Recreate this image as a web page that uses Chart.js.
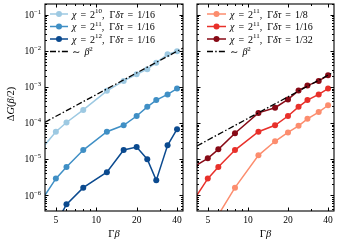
<!DOCTYPE html>
<html>
<head>
<meta charset="utf-8">
<script src="https://cdn.jsdelivr.net/npm/chart.js@4.4.1/dist/chart.umd.min.js"></script>
<style>
    html, body { margin: 0; padding: 0; background: #fff; }
    #wrap { position: relative; width: 338px; height: 241px; }
    canvas { position: absolute; left: 0; top: 0; }
</style>
</head>
<body>
<div id="wrap">
    <canvas id="leftPanel" width="338" height="241"></canvas>
    <canvas id="rightPanel" width="338" height="241"></canvas>
</div>
<script>
// Γβ values shared by every curve
const gammaBeta = [4, 5, 6, 8, 12, 16, 20, 24, 28, 34, 40];

// left panel: Γδτ = 1/16, varying χ
const chi10 = [2.1e-5, 5.7e-5, 1.03e-4, 2.3e-4, 7.8e-4, 1.47e-3, 2.25e-3, 3.1e-3, 4.7e-3, 8.0e-3, 9.8e-3];
const chi11 = [8.0e-7, 2.85e-6, 6.0e-6, 1.77e-5, 5.7e-5, 8.6e-5, 1.56e-4, 2.8e-4, 4.3e-4, 6.2e-4, 9.0e-4];
const chi12 = [null, 1.6e-7, 5.5e-7, 1.6e-6, 4.3e-6, 1.77e-5, 2.14e-5, 9.9e-6, 2.55e-6, 2.4e-5, 6.7e-5];

// right panel: χ = 2^11, varying Γδτ (1/16 is the same run as chi11)
const dtau8 = [null, 6.0e-8, 2.8e-7, 1.6e-6, 1.26e-5, 3.1e-5, 5.45e-5, 8.3e-5, 1.3e-4, 2.0e-4, 3.1e-4];
const dtau16 = chi11;
const dtau32 = [6.3e-6, 1.04e-5, 1.85e-5, 5.2e-5, 1.9e-4, 2.65e-4, 4.5e-4, 7.9e-4, 1.09e-3, 1.47e-3, 2.1e-3];

// ~β² guide lines (end points)
const guideX = [4.15, 44.3];
const guideLeft = [1.05e-4, 1.2e-2];
const guideRight = [2.3e-5, 2.6e-3];

// axes
const xRange = [4.15, 44.3];
const yRange = [3.6e-7, 0.2];
const xTicks = [5, 10, 20, 40];
const xMinor = [6, 7, 8, 9, 30];
const yExponents = [-6, -5, -4, -3, -2, -1];

const SERIF = "'Liberation Serif', 'DejaVu Serif', serif";

function pts(xs, ys) {
    return xs.map((x, i) => ({ x: x, y: ys[i] })).filter(p => p.y != null);
}

function fontFor(st, size) {
    if (st === 'i') return 'italic ' + size + 'px ' + SERIF;
    if (st === 's') return (size * 0.7) + 'px ' + SERIF;
    return size + 'px ' + SERIF;
}

function partsWidth(ctx, parts, size) {
    let w = 0;
    for (const [t, st] of parts) {
        if (st === 'g') { w += +t; continue; }
        ctx.font = fontFor(st, size);
        w += ctx.measureText(t).width;
    }
    return w;
}

function drawParts(ctx, parts, x, y, size) {
    for (const [t, st] of parts) {
        if (st === 'g') { x += +t; continue; }
        ctx.font = fontFor(st, size);
        ctx.fillText(t, x, st === 's' ? y - size * 0.42 : y);
        x += ctx.measureText(t).width;
    }
}

function eq(rhs) {
    return [['4', 'g'], ['=', ''], ['4', 'g'], [rhs, '']];
}

function chiLabel(exp, dt) {
    return [['χ', 'i']].concat(eq('2'), [[exp, 's'], [',', ''], ['5', 'g'], ['Γ', ''], ['δτ', 'i']], eq(dt));
}

const guideLabel = [['∼', ''], ['4', 'g'], ['β', 'i'], ['2', 's']];

// per panel decorations (legend, labels)
const panelInfo = {
    leftPanel: {
        yLabels: true,
        legendX: 50, legendW: 18, textX: 72,
        legend: [
            { color: '#9dc9e2', parts: chiLabel('10', '1/16') },
            { color: '#3f8fc5', parts: chiLabel('11', '1/16') },
            { color: '#0b4a8f', parts: chiLabel('12', '1/16') },
            { color: '#000', dash: true, parts: guideLabel }
        ]
    },
    rightPanel: {
        yLabels: false,
        legendX: 207, legendW: 19, textX: 230,
        legend: [
            { color: '#fc8d6e', parts: chiLabel('11', '1/8') },
            { color: '#e8302a', parts: chiLabel('11', '1/16') },
            { color: '#870a16', parts: chiLabel('11', '1/32') },
            { color: '#000', dash: true, parts: guideLabel }
        ]
    }
};

const DASHDOT = [6, 2.2, 1.5, 2.2];

// frame, inward ticks, labels and legend in matplotlib style
const framePlugin = {
    id: 'frame',
    afterDraw(chart) {
        const info = panelInfo[chart.canvas.id];
        const { ctx, chartArea: a, scales: { x, y } } = chart;
        ctx.save();
        ctx.strokeStyle = '#000';
        ctx.fillStyle = '#000';
        ctx.lineWidth = 1;

        const tick = (x1, y1, x2, y2) => {
            ctx.beginPath(); ctx.moveTo(x1, y1); ctx.lineTo(x2, y2); ctx.stroke();
        };

        // x ticks
        xTicks.concat(xMinor).forEach(v => {
            const px = Math.round(x.getPixelForValue(v)) + 0.5;
            const len = xTicks.includes(v) ? 3.5 : 2;
            tick(px, a.bottom, px, a.bottom - len);
            tick(px, a.top, px, a.top + len);
        });
        // y ticks
        for (let e = -8; e <= 0; e++) {
            for (let m = 1; m <= 9; m++) {
                const v = m * Math.pow(10, e);
                if (v < yRange[0] || v > yRange[1]) continue;
                const py = Math.round(y.getPixelForValue(v)) + 0.5;
                const len = m === 1 ? 3.5 : 2;
                tick(a.left, py, a.left + len, py);
                tick(a.right, py, a.right - len, py);
            }
        }
        ctx.lineWidth = 1.1;
        ctx.strokeRect(a.left, a.top, a.right - a.left, a.bottom - a.top);

        // x tick labels
        ctx.textBaseline = 'alphabetic';
        xTicks.forEach(v => {
            const px = x.getPixelForValue(v);
            const parts = [[String(v), '']];
            const w = partsWidth(ctx, parts, 9.5);
            drawParts(ctx, parts, px - w / 2, a.bottom + 12, 9.5);
        });
        // x title
        const xt = [['Γ', ''], ['β', 'i']];
        const xtw = partsWidth(ctx, xt, 10.5);
        drawParts(ctx, xt, (a.left + a.right) / 2 - xtw / 2, 237, 10.5);

        if (info.yLabels) {
            yExponents.forEach(e => {
                const py = y.getPixelForValue(Math.pow(10, e));
                const parts = [['10', ''], ['−' + Math.abs(e), 's']];
                const w = partsWidth(ctx, parts, 9.5);
                drawParts(ctx, parts, a.left - 4 - w, py + 3.5, 9.5);
            });
            // y title
            const yt = [['Δ', ''], ['G', 'i'], ['(', ''], ['β', 'i'], ['/2)', '']];
            const ytw = partsWidth(ctx, yt, 10.5);
            ctx.save();
            ctx.translate(10, 104);
            ctx.rotate(-Math.PI / 2);
            drawParts(ctx, yt, -ytw / 2, 3.5, 10.5);
            ctx.restore();
        }

        // legend
        info.legend.forEach((row, i) => {
            const cy = 14 + i * 12.5;
            ctx.strokeStyle = row.color;
            ctx.fillStyle = row.color;
            ctx.lineWidth = row.dash ? 1.3 : 1.5;
            ctx.setLineDash(row.dash ? DASHDOT : []);
            tick(info.legendX, cy, info.legendX + info.legendW, cy);
            ctx.setLineDash([]);
            if (!row.dash) {
                ctx.beginPath();
                ctx.arc(info.legendX + info.legendW / 2, cy, 3, 0, Math.PI * 2);
                ctx.fill();
            }
            ctx.fillStyle = '#000';
            drawParts(ctx, row.parts, info.textX, cy + 3.5, 10);
        });
        ctx.restore();
    }
};

function series(data, color, order) {
    return {
        data: data,
        borderColor: color,
        backgroundColor: color,
        borderWidth: 1.5,
        pointRadius: 3,
        pointBorderWidth: 0,
        pointBackgroundColor: color,
        tension: 0,
        order: order
    };
}

function guide(data) {
    return {
        data: data,
        borderColor: '#000',
        borderWidth: 1.3,
        borderDash: DASHDOT,
        pointRadius: 0,
        tension: 0,
        order: 0
    };
}

function makePanel(id, datasets, padding, yWidth) {
    return new Chart(document.getElementById(id), {
        type: 'line',
        data: { datasets: datasets },
        options: {
            responsive: false,
            animation: false,
            devicePixelRatio: 1,
            layout: { padding: padding },
            plugins: { legend: { display: false }, tooltip: { enabled: false } },
            scales: {
                x: {
                    type: 'logarithmic', min: xRange[0], max: xRange[1],
                    grid: { display: false, drawTicks: false },
                    border: { display: false },
                    ticks: { display: false },
                    afterFit: s => { s.height = 30; }
                },
                y: {
                    type: 'logarithmic', min: yRange[0], max: yRange[1],
                    grid: { display: false, drawTicks: false },
                    border: { display: false },
                    ticks: { display: false },
                    afterFit: s => { s.width = yWidth; }
                }
            }
        },
        plugins: [framePlugin]
    });
}

makePanel('leftPanel', [
    series(pts(gammaBeta, chi10), '#9dc9e2', 3),
    series(pts(gammaBeta, chi11), '#3f8fc5', 2),
    series(pts(gammaBeta, chi12), '#0b4a8f', 1),
    guide(pts(guideX, guideLeft))
], { left: 0, top: 3, right: 155, bottom: 0 }, 45);

makePanel('rightPanel', [
    series(pts(gammaBeta, dtau8), '#fc8d6e', 3),
    series(pts(gammaBeta, dtau16), '#e8302a', 2),
    series(pts(gammaBeta, dtau32), '#870a16', 1),
    guide(pts(guideX, guideRight))
], { left: 197, top: 3, right: 3, bottom: 0 }, 0);
</script>
</body>
</html>
